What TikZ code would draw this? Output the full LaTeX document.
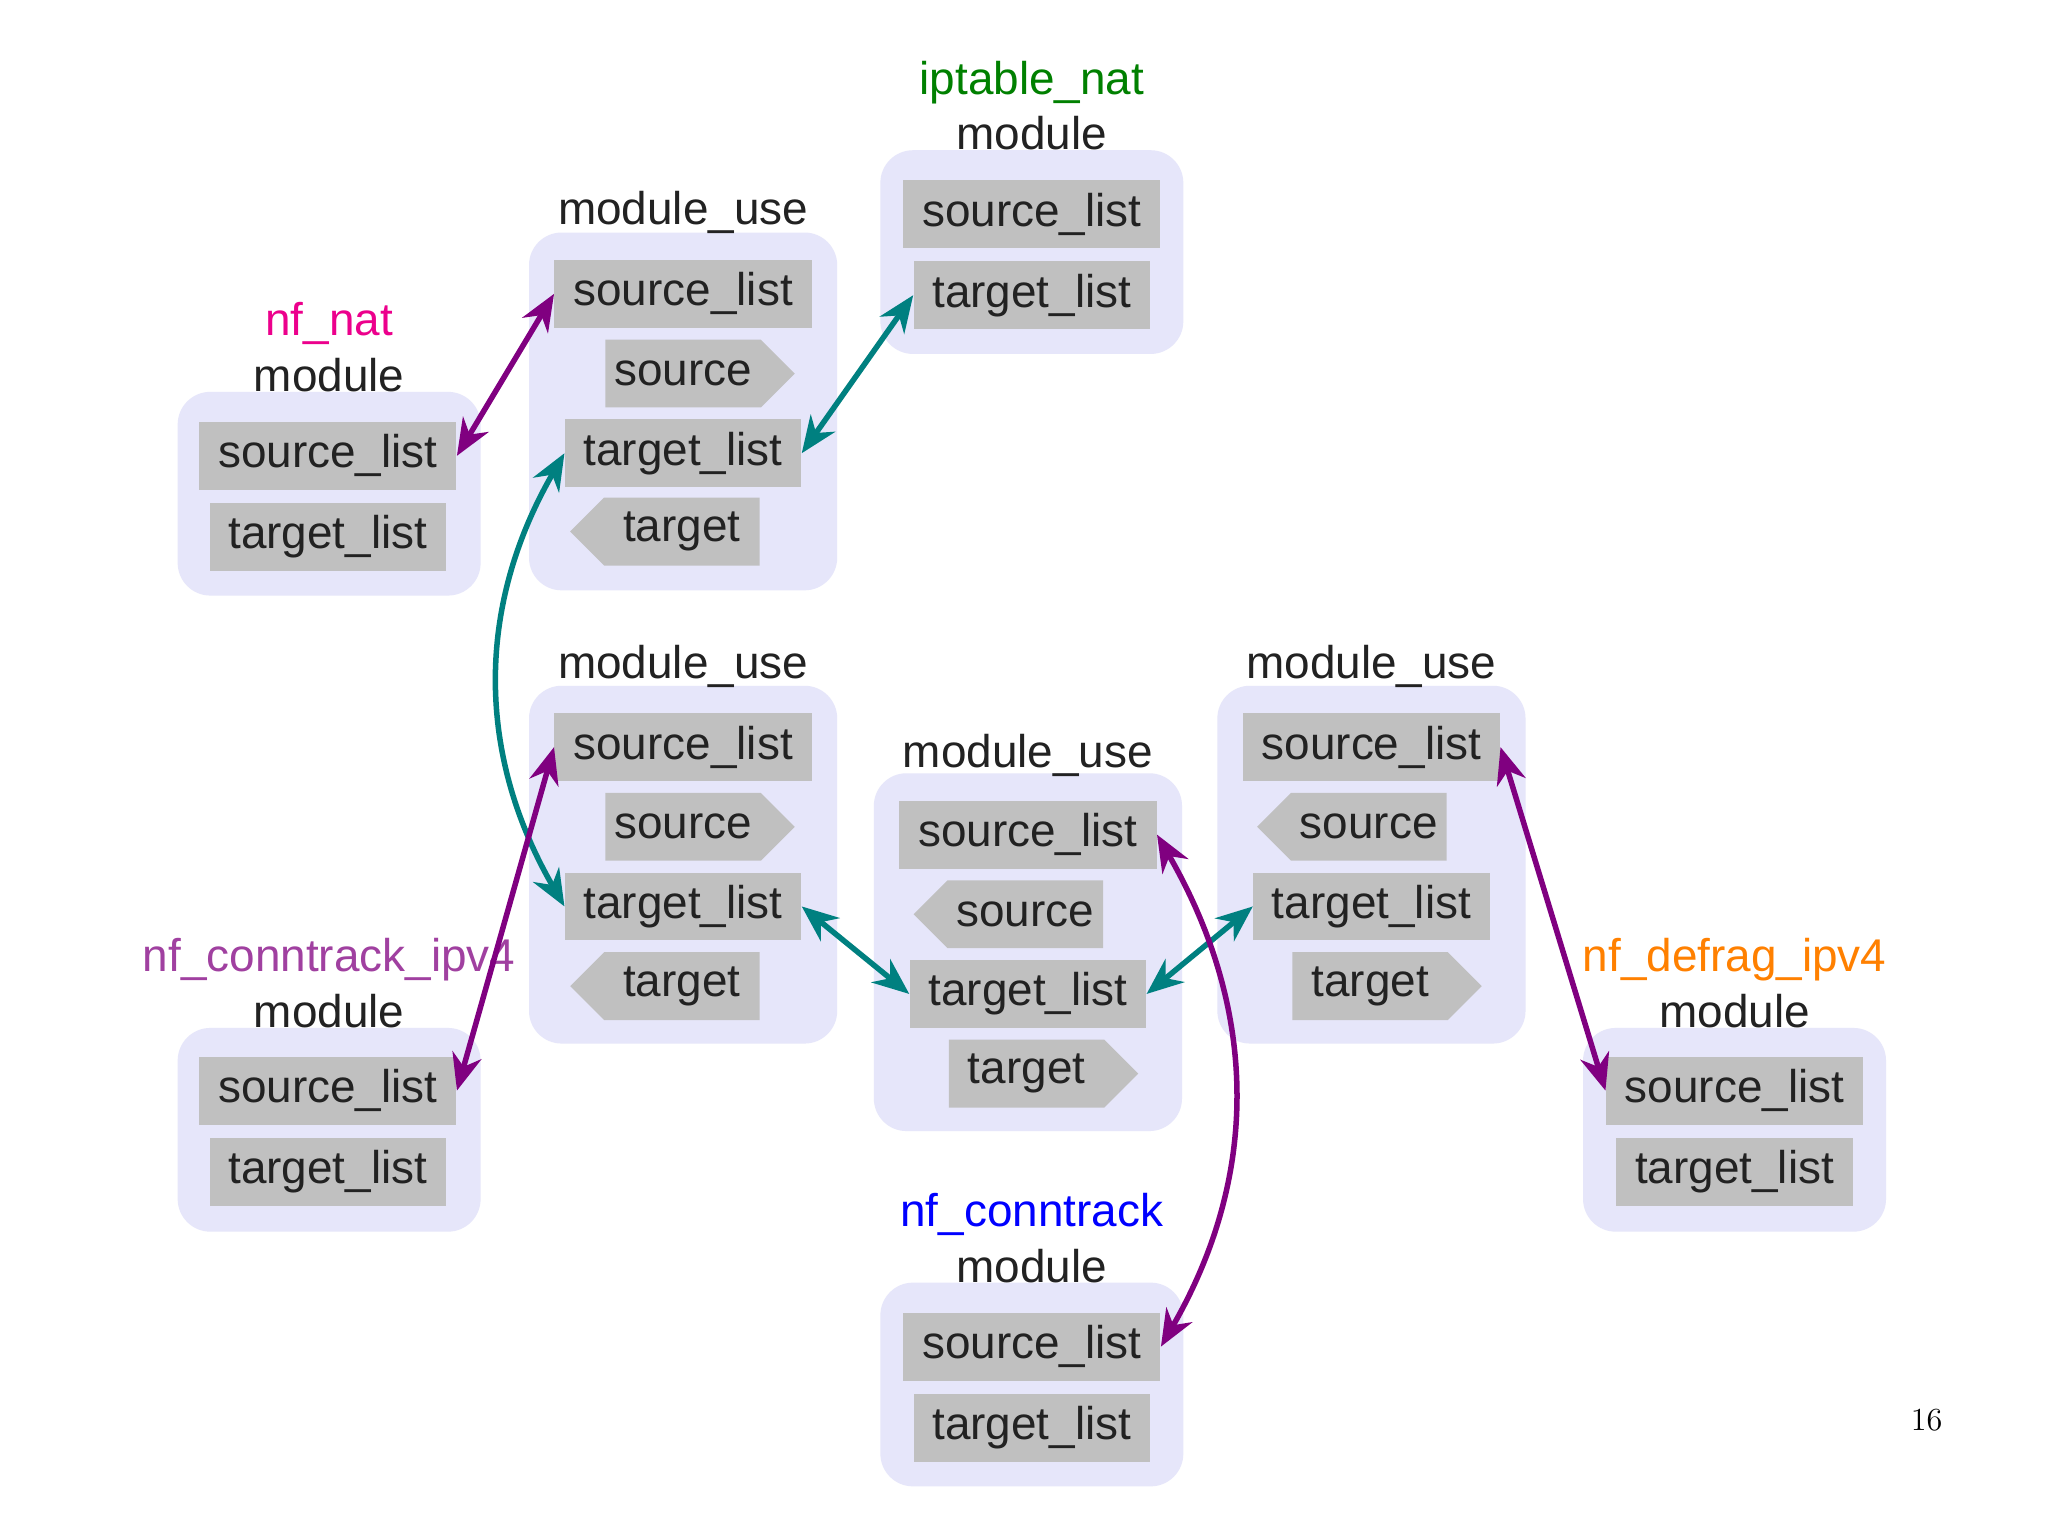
\documentclass[tikz,border=0pt]{standalone}
\usepackage{fontspec}
\setmainfont{Liberation Sans}
\usetikzlibrary{shapes.symbols,arrows.meta}
\definecolor{lav}{HTML}{E6E6FA}
\definecolor{gbx}{HTML}{C0C0C0}
\definecolor{txt}{HTML}{222222}
\definecolor{pur}{HTML}{800080}
\definecolor{tea}{HTML}{008080}
\begin{document}
\begin{tikzpicture}[x=0.02cm,y=-0.02cm,
  cont/.style={fill=lav,rounded corners=0.5cm,minimum width=4.64cm,minimum height=3.12cm,inner sep=0},
  contb/.style={fill=lav,rounded corners=0.5cm,minimum width=4.72cm,minimum height=5.48cm,inner sep=0},
  gb/.style={fill=gbx,text=txt,font=\fontsize{20}{24}\selectfont,minimum height=1.04cm,inner sep=0},
  sl/.style={gb,minimum width=3.94cm},
  tl/.style={gb,minimum width=3.62cm},
  sr/.style={gb,shape=signal,signal to=east,signal pointer angle=90,minimum width=2.9cm},
  sll/.style={gb,shape=signal,signal to=west,signal pointer angle=90,minimum width=2.9cm},
  ttl/.style={text=txt,font=\fontsize{20}{24}\selectfont,inner sep=0},
  parr/.style={pur,line width=2.4pt,{Stealth[length=16pt,width=13pt]}-{Stealth[length=16pt,width=13pt]}},
  tarr/.style={tea,line width=2.4pt,{Stealth[length=16pt,width=13pt]}-{Stealth[length=16pt,width=13pt]}}]
\path[use as bounding box,fill=white] (0,0) rectangle (1568,1175);
% nf_nat
\node[cont] (c1) at (252,378) {};
\node[ttl,text=magenta] (t1) at (252,248) {nf\_nat};
\node[ttl] (m1) at (252,287) {module};
\node[sl] (s1) at (251,349) {source\_list};
\node[tl] (g1) at (251,411) {target\_list};
% module_use top
\node[contb] (c2) at (523,315) {};
\node[ttl] (t2) at (523,163) {module\_use};
\node[sl] (s2) at (523,225) {source\_list};
\node[sr] (r2) at (523,286) {source};
\node[tl] (g2) at (523,347) {target\_list};
\node[sll] (l2) at (522,407) {target};
% iptable_nat
\node[cont] (c3) at (790,193) {};
\node[ttl,text=green!50!black] (t3) at (790,63) {iptable\_nat};
\node[ttl] (m3) at (790,102) {module};
\node[sl] (s3) at (790,164) {source\_list};
\node[tl] (g3) at (790,226) {target\_list};
% module_use mid-left
\node[contb] (c4) at (523,662) {};
\node[ttl] (t4) at (523,510) {module\_use};
\node[sl] (s4) at (523,572) {source\_list};
\node[sr] (r4) at (523,633) {source};
\node[tl] (g4) at (523,694) {target\_list};
\node[sll] (l4) at (522,755) {target};
% module_use center
\node[contb] (c5) at (787,729) {};
\node[ttl] (t5) at (787,578) {module\_use};
\node[sl] (s5) at (787,639) {source\_list};
\node[sll] (l5) at (785,700) {source};
\node[tl] (g5) at (787,761) {target\_list};
\node[sr] (r5) at (786,822) {target};
% module_use right
\node[contb] (c6) at (1050,662) {};
\node[ttl] (t6) at (1050,510) {module\_use};
\node[sl] (s6) at (1050,572) {source\_list};
\node[sll] (l6) at (1048,633) {source};
\node[tl] (g6) at (1050,694) {target\_list};
\node[sr] (r6) at (1049,755) {target};
% nf_conntrack_ipv4
\node[cont] (c7) at (252,865) {};
\node[ttl,text=pur!75!white] (t7) at (252,735) {nf\_conntrack\_ipv4};
\node[ttl] (m7) at (252,774) {module};
\node[sl] (s7) at (251,835) {source\_list};
\node[tl] (g7) at (251,897) {target\_list};
% nf_defrag_ipv4
\node[cont] (c8) at (1328,865) {};
\node[ttl,text=orange] (t8) at (1328,735) {nf\_defrag\_ipv4};
\node[ttl] (m8) at (1328,774) {module};
\node[sl] (s8) at (1328,835) {source\_list};
\node[tl] (g8) at (1328,897) {target\_list};
% nf_conntrack
\node[cont] (c9) at (790,1060) {};
\node[ttl,text=blue] (t9) at (790,930) {nf\_conntrack};
\node[ttl] (m9) at (790,969) {module};
\node[sl] (s9) at (790,1031) {source\_list};
\node[tl] (g9) at (790,1093) {target\_list};
% page number
\node[font=\fontfamily{lmr}\fontsize{14}{16}\selectfont] (pg) at (1475,1087) {16};
% arrows
\draw[parr] (s1.east) -- (s2.west);
\draw[tarr] (g2.east) -- (g3.west);
\draw[tarr] (g2.west) to[out=240,in=120] (g4.west);
\draw[parr] (s7.east) -- (s4.west);
\draw[tarr] (g4.east) -- (g5.west);
\draw[tarr] (g5.east) -- (g6.west);
\draw[parr] (s5.east) to[out=-60,in=60] (s9.east);
\draw[parr] (s6.east) -- (s8.west);
\end{tikzpicture}
\end{document}
